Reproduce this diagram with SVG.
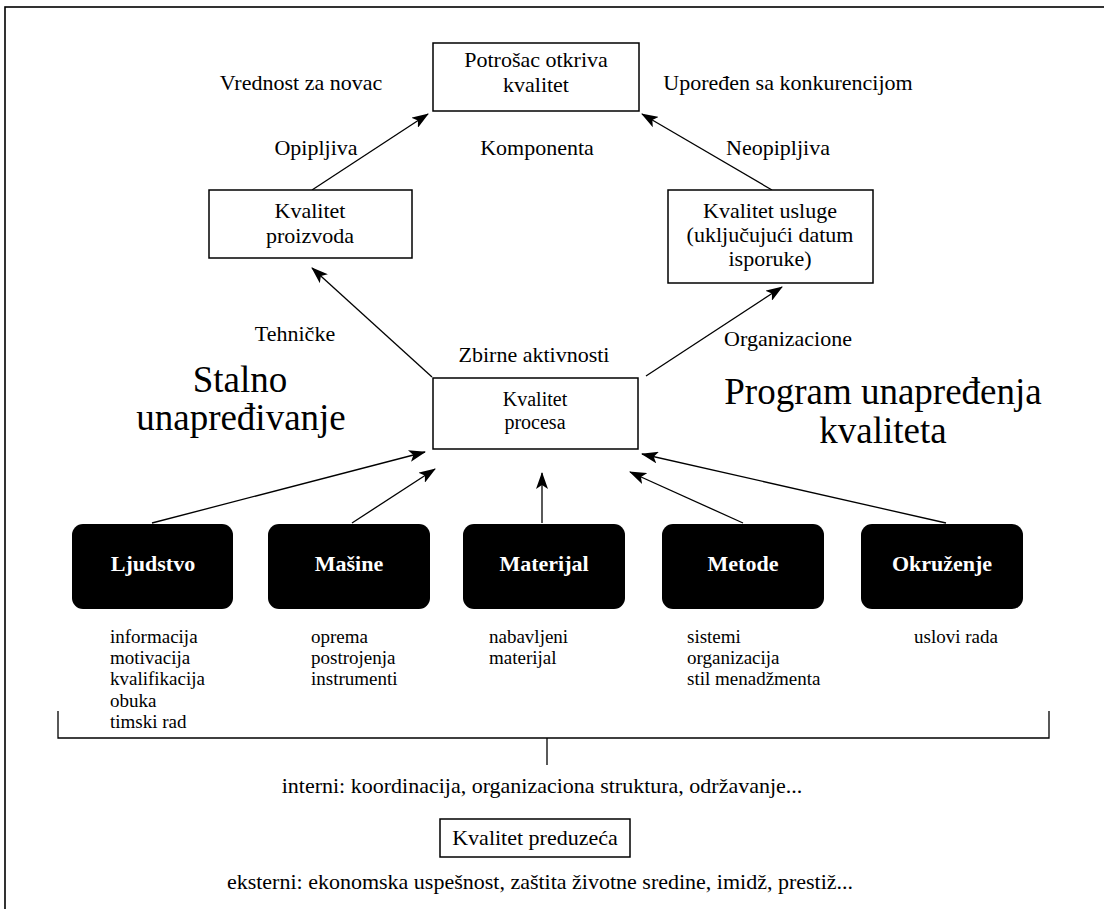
<svg xmlns="http://www.w3.org/2000/svg" width="1104" height="909" viewBox="0 0 1104 909">
<style>
text{font-family:"Liberation Serif","Times New Roman",serif;fill:#000}
.lbl{font-size:22px;text-anchor:middle}
.pl{font-size:20px;text-anchor:middle}
.box{fill:#fff;stroke:#000;stroke-width:1.5}
.blk{fill:#000}
.bl{font-size:22px;font-weight:bold;fill:#fff;text-anchor:middle}
.sub{font-size:19px}
.big{font-size:37px;text-anchor:middle}
.ln{stroke:#000;stroke-width:1.3;fill:none}
.arr{marker-end:url(#ah)}
</style>
<defs>
<marker id="ah" markerUnits="userSpaceOnUse" markerWidth="18" markerHeight="12" refX="16" refY="6" orient="auto">
<path d="M0,0 L17,6 L0,12 L4,6 Z" fill="#000"/>
</marker>
</defs>
<rect x="5" y="7" width="1110" height="920" fill="none" stroke="#000" stroke-width="1.6"/>

<g id="connectors">
<line class="ln arr" x1="312" y1="190" x2="428" y2="114"/>
<line class="ln arr" x1="772" y1="190" x2="642" y2="114"/>
<line class="ln arr" x1="432" y1="377" x2="312" y2="268"/>
<line class="ln arr" x1="646" y1="376" x2="782" y2="287"/>
<line class="ln arr" x1="152" y1="523" x2="425" y2="452"/>
<line class="ln arr" x1="352" y1="523" x2="435" y2="469"/>
<line class="ln arr" x1="542" y1="523" x2="542" y2="473"/>
<line class="ln arr" x1="743" y1="523" x2="630" y2="472"/>
<line class="ln arr" x1="946" y1="523" x2="642" y2="454"/>
<path class="ln" d="M58,711 V738 H1049 V711"/>
<line class="ln" x1="547" y1="738" x2="547" y2="765"/>
</g>

<g id="labels">
<text class="lbl" x="301" y="90">Vrednost za novac</text>
<text class="lbl" x="788" y="90">Upoređen sa konkurencijom</text>
<text class="lbl" x="316" y="155">Opipljiva</text>
<text class="lbl" x="537" y="155">Komponenta</text>
<text class="lbl" x="778" y="155">Neopipljiva</text>
<text class="lbl" x="295" y="341">Tehničke</text>
<text class="lbl" x="534" y="362">Zbirne aktivnosti</text>
<text class="lbl" x="788" y="346">Organizacione</text>
<text class="big" x="240" y="392">Stalno</text>
<text class="big" x="241" y="430">unapređivanje</text>
<text class="big" x="883" y="404">Program unapređenja</text>
<text class="big" x="883" y="443">kvaliteta</text>
<text class="lbl" x="542" y="793">interni: koordinacija, organizaciona struktura, održavanje...</text>
<text class="lbl" x="540" y="889">eksterni: ekonomska uspešnost, zaštita životne sredine, imidž, prestiž...</text>
</g>

<g id="node-potrosac">
<rect class="box" x="433" y="43" width="206" height="68"/>
<text class="lbl" x="536" y="67">Potrošac otkriva</text>
<text class="lbl" x="536" y="92">kvalitet</text>
</g>
<g id="node-proizvod">
<rect class="box" x="209" y="190" width="203" height="68"/>
<text class="lbl" x="310" y="218">Kvalitet</text>
<text class="lbl" x="310" y="243">proizvoda</text>
</g>
<g id="node-usluga">
<rect class="box" x="668" y="190" width="205" height="93"/>
<text class="lbl" x="770" y="218">Kvalitet usluge</text>
<text class="lbl" x="770" y="242">(uključujući datum</text>
<text class="lbl" x="770" y="266">isporuke)</text>
</g>
<g id="node-proces">
<rect class="box" x="433" y="378" width="205" height="71"/>
<text class="pl" x="535" y="406">Kvalitet</text>
<text class="pl" x="535" y="429">procesa</text>
</g>

<g id="node-ljudstvo">
<rect class="blk" x="72" y="524" width="161" height="85" rx="11"/>
<text class="bl" x="153" y="571">Ljudstvo</text>
<text class="sub"><tspan x="110" y="643">informacija</tspan><tspan x="110" y="664">motivacija</tspan><tspan x="110" y="685">kvalifikacija</tspan><tspan x="110" y="707">obuka</tspan><tspan x="110" y="728">timski rad</tspan></text>
</g>
<g id="node-masine">
<rect class="blk" x="268" y="524" width="162" height="85" rx="11"/>
<text class="bl" x="349" y="571">Mašine</text>
<text class="sub"><tspan x="311" y="643">oprema</tspan><tspan x="311" y="664">postrojenja</tspan><tspan x="311" y="685">instrumenti</tspan></text>
</g>
<g id="node-materijal">
<rect class="blk" x="463" y="524" width="162" height="85" rx="11"/>
<text class="bl" x="544" y="571">Materijal</text>
<text class="sub"><tspan x="489" y="643">nabavljeni</tspan><tspan x="489" y="664">materijal</tspan></text>
</g>
<g id="node-metode">
<rect class="blk" x="662" y="524" width="162" height="85" rx="11"/>
<text class="bl" x="743" y="571">Metode</text>
<text class="sub"><tspan x="687" y="643">sistemi</tspan><tspan x="687" y="664">organizacija</tspan><tspan x="687" y="685">stil menadžmenta</tspan></text>
</g>
<g id="node-okruzenje">
<rect class="blk" x="861" y="524" width="162" height="85" rx="11"/>
<text class="bl" x="942" y="571">Okruženje</text>
<text class="sub"><tspan x="914" y="643">uslovi rada</tspan></text>
</g>

<g id="node-preduzece">
<rect class="box" x="440" y="819" width="190" height="38"/>
<text class="lbl" x="535" y="845">Kvalitet preduzeća</text>
</g>
</svg>
